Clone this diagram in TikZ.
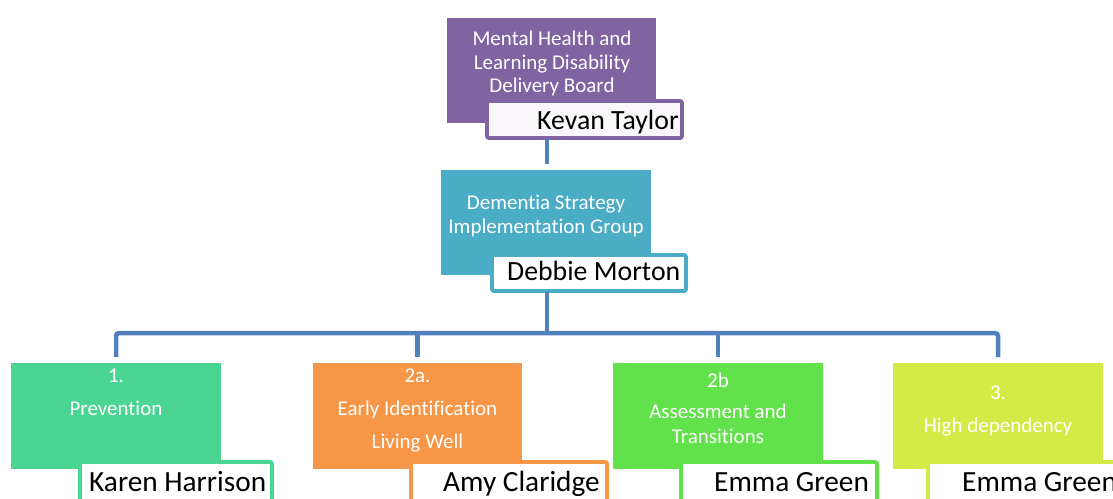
\documentclass[tikz,border=0pt]{standalone}
\usepackage{fontspec}
\setmainfont{Carlito}[Ligatures={NoCommon}]
\definecolor{cpurple}{HTML}{8064A2}
\definecolor{cteal}{HTML}{4BACC6}
\definecolor{cgreenA}{HTML}{4AD593}
\definecolor{corange}{HTML}{F79646}
\definecolor{cgreenB}{HTML}{62E24A}
\definecolor{cyellow}{HTML}{D4EB47}
\definecolor{cblue}{HTML}{4F81BD}
\begin{document}
\begin{tikzpicture}[x=1pt,y=-1pt,
  mainbox/.style={rectangle,anchor=north west,inner sep=0pt,outer sep=0pt},
  namebox/.style={rectangle,anchor=north west,inner sep=0pt,outer sep=0pt,fill=white,line width=3.8pt,rounded corners=2pt},
  wtext/.style={anchor=base,text=white,inner sep=0pt,font=\fontsize{21}{25}\selectfont},
  ntext/.style={anchor=base west,text=black,inner sep=0pt,font=\fontsize{27.8}{32}\selectfont},
  ntextb/.style={anchor=base west,text=black,inner sep=0pt,font=\fontsize{29.3}{32}\selectfont},
  conn/.style={draw=cblue,line width=4.5pt}]
\useasboundingbox (0,0) rectangle (1113,498);
\clip (0,0) rectangle (1113,498);

% top box
\node[mainbox,fill=cpurple,minimum width=209pt,minimum height=105pt] (mhld) at (447,18) {};
\node[namebox,draw=cpurple,fill=white!95!cpurple,minimum width=195pt,minimum height=37pt] (kevanbox) at (487,101) {};
\node[wtext] (t1a) at (552,45) {Mental Health and};
\node[wtext] (t1b) at (552,69) {Learning Disability};
\node[wtext] (t1c) at (552,92) {Delivery Board};
\node[ntext] (kevan) at (537,129) {Kevan Taylor};

% second box
\node[mainbox,fill=cteal,minimum width=210pt,minimum height=105pt] (dsig) at (441,170) {};
\node[namebox,draw=cteal,minimum width=194pt,minimum height=36pt] (debbiebox) at (492,255) {};
\node[wtext] (t2a) at (546,209) {Dementia Strategy};
\node[wtext] (t2b) at (546,233) {Implementation Group};
\node[ntext] (debbie) at (507,280) {Debbie Morton};

% bottom boxes
\node[mainbox,fill=cgreenA,minimum width=210pt,minimum height=106pt] (p1) at (11,363) {};
\node[namebox,draw=cgreenA,minimum width=192pt,minimum height=60pt] (karenbox) at (80,462) {};
\node[wtext] (t3a) at (116,382) {1.};
\node[wtext] (t3b) at (116,415) {Prevention};
\node[ntextb] (karen) at (89,491) {Karen Harrison};

\node[mainbox,fill=corange,minimum width=209pt,minimum height=106pt] (p2) at (313,363) {};
\node[namebox,draw=corange,minimum width=196pt,minimum height=60pt] (amybox) at (411,462) {};
\node[wtext] (t4a) at (417.5,382) {2a.};
\node[wtext] (t4b) at (417.5,415) {Early Identification};
\node[wtext] (t4c) at (417.5,448) {Living Well};
\node[ntextb] (amy) at (443,491) {Amy Claridge};

\node[mainbox,fill=cgreenB,minimum width=210pt,minimum height=106pt] (p3) at (613,363) {};
\node[namebox,draw=cgreenB,minimum width=196pt,minimum height=60pt] (emmabox) at (681,462) {};
\node[wtext] (t5a) at (718,387) {2b};
\node[wtext] (t5b) at (718,418) {Assessment and};
\node[wtext] (t5c) at (718,443) {Transitions};
\node[ntextb] (emma) at (714,491) {Emma Green};

\node[mainbox,fill=cyellow,minimum width=210pt,minimum height=106pt] (p4) at (893,363) {};
\node[namebox,draw=cyellow,minimum width=196pt,minimum height=60pt] (emmabbox) at (928,462) {};
\node[wtext] (t6a) at (998,399) {3.};
\node[wtext] (t6b) at (998,432) {High dependency};
\node[ntextb] (emmab) at (962,491) {Emma Green};

% connectors
\coordinate (trunk) at (547,0);
\coordinate (bus) at (0,333);
\draw[conn,shorten <=1pt,shorten >=6pt] (kevanbox.south -| trunk) -- (dsig.north -| trunk);
\draw[conn,shorten <=1pt] (debbiebox.south -| trunk) -- (trunk |- bus);
\draw[conn,rounded corners=3pt,shorten <=6pt,shorten >=6pt] (p1.north) |- (p4.north |- bus) -- (p4.north);
\draw[conn,shorten >=6pt] (p2.north |- bus) -- (p2.north);
\draw[conn,shorten >=6pt] (p3.north |- bus) -- (p3.north);
\end{tikzpicture}
\end{document}
